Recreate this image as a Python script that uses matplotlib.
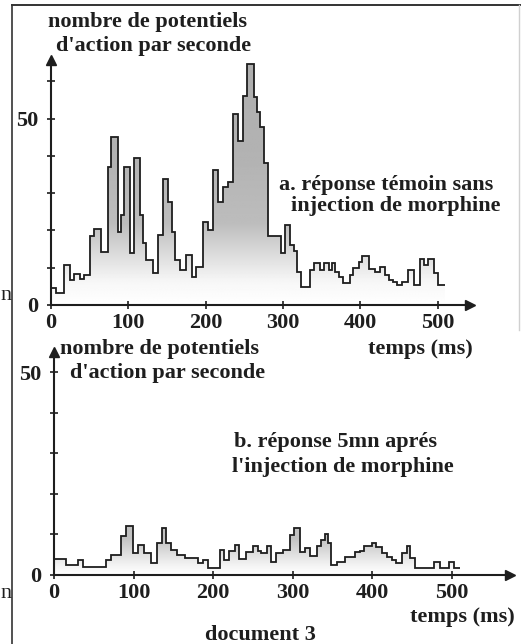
import numpy as np
import matplotlib
matplotlib.use('Agg')
import matplotlib.pyplot as plt
from matplotlib.patches import Polygon
from matplotlib.lines import Line2D

# histogramme a : réponse témoin (bords des classes en ms, fréquence en PA/s)
top_edges = [0, 6, 17, 24, 30, 37, 43, 50, 56, 65, 74, 78, 87, 91, 95, 102, 108,
             115, 119, 123, 132, 139, 145, 152, 156, 160, 167, 175, 182, 188, 197,
             203, 210, 216, 223, 229, 236, 242, 249, 253, 262, 266, 271, 275, 281,
             298, 303, 309, 314, 318, 324, 335, 340, 348, 353, 359, 363, 368, 372,
             378, 387, 391, 398, 402, 411, 419, 426, 432, 437, 443, 447, 454, 462,
             469, 478, 482, 488, 495, 501, 510]
top_rate = [4.5, 3.3, 10.7, 6.7, 8.3, 6.9, 8, 18.5, 20.5, 14.3, 37, 45, 19.6, 24,
            37, 14, 39.5, 24, 16.5, 12, 8.7, 18.7, 33.7, 27.7, 19.6, 12, 9.4, 13.4,
            7.6, 10.3, 22.3, 20, 36.3, 27.7, 31.7, 33, 51.3, 44, 56, 64.7, 55.8,
            51.8, 47.8, 38, 18.5, 14, 21.4, 16, 14.5, 8.9, 4.9, 9.4, 11.2, 9.4, 11.2,
            9.4, 11.2, 8.9, 7.6, 5.8, 8, 9.8, 11.6, 13.1, 9.6, 8.9, 10.3, 8, 6.7,
            6.3, 5.4, 6.3, 9.4, 5.4, 12.2, 10.7, 12.2, 8.5, 5.4]

# histogramme b : 5 mn après morphine
bot_edges = [0, 15, 30, 36, 65, 71, 84, 91, 99, 105, 113, 122, 130, 136, 141, 147,
             155, 164, 181, 187, 193, 208, 214, 220, 227, 233, 241, 250, 256, 260,
             267, 273, 279, 288, 296, 302, 309, 315, 321, 330, 336, 340, 344, 348,
             355, 365, 378, 384, 390, 399, 405, 412, 418, 424, 430, 437, 443, 447,
             454, 477, 485, 496, 502, 510]
bot_rate = [4, 2.5, 3.8, 2, 3.8, 5, 9.5, 12, 5.5, 7.5, 5.5, 3, 8, 11.5, 8, 6.2, 5,
            4.2, 3, 3.8, 1.8, 6.2, 3.7, 6, 7.3, 4, 5.7, 7.1, 6, 5.5, 7.1, 3.3, 5.3,
            6.2, 9.8, 11.5, 5.7, 6.6, 4.7, 7.1, 8.6, 10, 7.8, 2.5, 3.3, 4.5, 5.7, 6,
            7.1, 8, 7, 5.3, 4.5, 3.7, 2.9, 5.3, 7.1, 4.1, 1.7, 3.3, 1.7, 3.3, 1.7]

x_ticks = [0, 100, 200, 300, 400, 500]

INK = '#1e1e1e'
W, H = 521, 644
FONT = dict(family='Liberation Serif', weight='bold', color=INK, size=16)

plt.rcParams['font.family'] = 'Liberation Serif'
plt.rcParams['font.weight'] = 'bold'

fig = plt.figure(figsize=(W / 100, H / 100), dpi=100)


def px_axes(x0, y0, x1, y1):
    # rectangle en pixels (origine en haut à gauche)
    return fig.add_axes([x0 / W, 1 - y1 / H, (x1 - x0) / W, (y1 - y0) / H])


def step_poly(edges, vals):
    xs = np.repeat(edges, 2)[1:-1]
    ys = np.repeat(vals, 2)
    xs = np.r_[xs, edges[-1], edges[0]]
    ys = np.r_[ys, 0, 0]
    return np.column_stack([xs, ys])


def panel(ax, edges, vals, xmax, ymax, ramp, yticks):
    edges = np.asarray(edges, float)
    vals = np.asarray(vals, float)
    patch = Polygon(step_poly(edges, vals), closed=True, fc='none', ec='none')
    ax.add_patch(patch)
    yy = np.linspace(0, ymax, 300)
    g = np.interp(yy, ramp[0], ramp[1])
    im = ax.imshow(np.tile(g[:, None], (1, 2)), extent=[edges[0], edges[-1], 0, ymax],
                   origin='lower', aspect='auto', cmap='gray', vmin=0, vmax=1,
                   interpolation='bilinear', zorder=1)
    im.set_clip_path(patch)
    ax.stairs(vals, edges, baseline=None, color=INK, lw=1.3, zorder=2)

    ax.set_xlim(0, xmax)
    ax.set_ylim(0, ymax)
    ax.set_facecolor('none')
    for s in ['top', 'right']:
        ax.spines[s].set_visible(False)
    for s in ['left', 'bottom']:
        ax.spines[s].set_color(INK)
        ax.spines[s].set_linewidth(1.5)
    ax.set_xticks(x_ticks)
    ax.set_xticklabels([str(t) for t in x_ticks])
    ax.set_yticks(yticks)
    ax.set_yticklabels([str(t) if t in (0, 50) else '' for t in yticks])
    ax.tick_params(direction='inout', length=6, width=1.2, color=INK,
                   labelsize=16, labelcolor=INK)
    ax.tick_params(axis='x', pad=3)
    ax.tick_params(axis='y', pad=6)
    ax.plot(1, 0, '>', color=INK, ms=7, transform=ax.get_yaxis_transform(), clip_on=False)
    ax.plot(0, 1, '^', color=INK, ms=7, transform=ax.get_xaxis_transform(), clip_on=False)


# panneau a
ax1 = px_axes(51, 60, 470, 305)
panel(ax1, top_edges, top_rate, (470 - 51) / 0.773, (305 - 60) / 3.73,
      ([0, 6, 22, 40, 70], [1.0, 0.97, 0.74, 0.70, 0.68]), list(range(0, 61, 10)))

# panneau b
ax2 = px_axes(54, 352, 510, 575)
panel(ax2, bot_edges, bot_rate, (510 - 54) / 0.796, (575 - 352) / 4.06,
      ([0, 2.5, 9, 55], [1.0, 0.95, 0.76, 0.7]), list(range(0, 51, 10)))


def ftext(x, y, s, ha='center', size=16, weight='bold'):
    f = dict(FONT, size=size, weight=weight)
    fig.text(x / W, 1 - y / H, s, ha=ha, va='center', **f)


ftext(148, 22, 'nombre de potentiels')
ftext(154, 46, "d'action par seconde")
ftext(386, 185, 'a. réponse témoin sans')
ftext(396, 206, 'injection de morphine')
ftext(420, 349, 'temps (ms)')
ftext(160, 349, 'nombre de potentiels')
ftext(168, 373, "d'action par seconde")
ftext(335, 442, 'b. réponse 5mn aprés')
ftext(343, 467, "l'injection de morphine")
ftext(462, 617, 'temps (ms)')
ftext(260, 635, 'document 3')
# lettres de la page voisine, visibles au bord gauche du scan
ftext(0.5, 296, 'n', ha='left', size=16, weight='normal')
ftext(0.5, 593, 'n', ha='left', size=16, weight='normal')

# cadre de la page scannée
fig.add_artist(Line2D([12 / W, 12 / W], [0, 1 - 5 / H], transform=fig.transFigure,
                      color='#333333', lw=1.2))
fig.add_artist(Line2D([12 / W, 1], [1 - 5 / H, 1 - 5 / H], transform=fig.transFigure,
                      color='#333333', lw=1.4))
fig.add_artist(Line2D([519 / W, 519 / W], [1 - 5 / H, 1 - 330 / H], transform=fig.transFigure,
                      color='#d0d0d0', lw=1.0))

fig.savefig('out.png', dpi=100)
